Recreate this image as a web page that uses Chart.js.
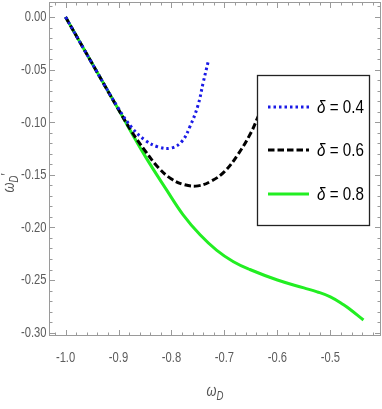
<!DOCTYPE html>
<html>
<head>
<meta charset="utf-8">
<script src="https://cdn.jsdelivr.net/npm/chart.js@4"></script>
<style>
	body {margin: 0; background: #fff;}
	canvas {display: block;}
</style>
</head>
<body>
<canvas id="chart" width="382" height="409"></canvas>
<script>
// values
const labels = ['δ = 0.4', 'δ = 0.6', 'δ = 0.8']

const xBlue = [-1.0, -0.95, -0.9, -0.875, -0.85, -0.825, -0.8, -0.78, -0.765, -0.75, -0.74, -0.73]
const yBlue = [0, -0.044, -0.087, -0.105, -0.117, -0.1235, -0.1245, -0.118, -0.104, -0.084, -0.062, -0.041]

const xBlack = [-1.0, -0.95, -0.9, -0.875, -0.85, -0.825, -0.8, -0.775, -0.75, -0.725, -0.7, -0.675, -0.65, -0.635]
const yBlack = [0, -0.044, -0.088, -0.109, -0.127, -0.143, -0.154, -0.1595, -0.1605, -0.156, -0.147, -0.131, -0.11, -0.093]

const xGreen = [-1.0, -0.9, -0.85, -0.809, -0.778, -0.746, -0.715, -0.683, -0.652, -0.6, -0.55, -0.525, -0.5, -0.475, -0.4625, -0.4375]
const yGreen = [0, -0.088, -0.132, -0.1645, -0.188, -0.207, -0.2215, -0.2326, -0.240, -0.250, -0.2575, -0.2612, -0.266, -0.2735, -0.278, -0.288]

const xTicks = [-1.0, -0.9, -0.8, -0.7, -0.6, -0.5]
const yTicks = [0, -0.05, -0.10, -0.15, -0.20, -0.25, -0.30]

const family = "'Liberation Sans', Arial, sans-serif"
const squeeze = 0.8   // the reference uses a narrow face
const frameColor = '#9a9a9a'
const labelColor = '#5c5c5c'

function points(xs, ys) {
	return xs.map((x, i) => ({x, y: ys[i]}))
}

// text drawn horizontally condensed, like a narrow font
function narrowText(ctx, text, x, y, font, align) {
	ctx.save()
	ctx.font = font
	const w = ctx.measureText(text).width * squeeze
	let left = x
	if (align == 'center') left = x - w / 2
	if (align == 'right') left = x - w
	ctx.translate(left, y)
	ctx.scale(squeeze, 1)
	ctx.textAlign = 'left'
	ctx.fillText(text, 0, 0)
	ctx.restore()
	return w
}

function textWidth(ctx, text, font) {
	ctx.font = font
	return ctx.measureText(text).width * squeeze
}

function drawTicks(ctx, scale, values, length, axis, area) {
	for (const v of values) {
		const p = Math.round(scale.getPixelForValue(v)) + 0.5
		ctx.beginPath()
		if (axis == 'x') {
			ctx.moveTo(p, area.bottom); ctx.lineTo(p, area.bottom - length)
			ctx.moveTo(p, area.top); ctx.lineTo(p, area.top + length)
		} else {
			ctx.moveTo(area.left, p); ctx.lineTo(area.left + length, p)
			ctx.moveTo(area.right, p); ctx.lineTo(area.right - length, p)
		}
		ctx.stroke()
	}
}

function minorValues(min, max, step) {
	const out = []
	const start = Math.ceil(min / step - 1e-6)
	for (let k = start; k * step <= max + 1e-9; k++) out.push(k * step)
	return out
}

function drawOmegaD(ctx, x, y, prime) {
	const big = `italic 16px ${family}`
	const small = `italic 12px ${family}`
	const w1 = textWidth(ctx, 'ω', big)
	const w2 = textWidth(ctx, 'D', small)
	const w3 = prime ? textWidth(ctx, '\u2032', `14px ${family}`) : 0
	let cx = x - (w1 + w2 + w3) / 2
	ctx.textBaseline = 'alphabetic'
	cx += narrowText(ctx, 'ω', cx, y, big, 'left')
	cx += narrowText(ctx, 'D', cx, y + 4, small, 'left')
	if (prime) narrowText(ctx, '\u2032', cx, y - 3, `14px ${family}`, 'left')
}

const framePlugin = {
	id: 'frame',
	afterDatasetsDraw(chart) {
		const {ctx, chartArea: area, scales} = chart
		ctx.save()
		ctx.strokeStyle = frameColor
		ctx.lineWidth = 1
		ctx.strokeRect(area.left + 0.5, area.top + 0.5, area.right - area.left - 1, area.bottom - area.top - 1)
		drawTicks(ctx, scales.x, xTicks, 6, 'x', area)
		drawTicks(ctx, scales.x, minorValues(scales.x.min, scales.x.max, 0.02), 3.5, 'x', area)
		drawTicks(ctx, scales.y, yTicks, 6, 'y', area)
		drawTicks(ctx, scales.y, minorValues(scales.y.min, scales.y.max, 0.01), 3.5, 'y', area)

		// tick labels
		ctx.fillStyle = labelColor
		ctx.textBaseline = 'middle'
		const tickFont = `14px ${family}`
		for (const v of xTicks) {
			narrowText(ctx, v.toFixed(1), scales.x.getPixelForValue(v), 358, tickFont, 'center')
		}
		for (const v of yTicks) {
			narrowText(ctx, v.toFixed(2), 46.5, scales.y.getPixelForValue(v) + 0.5, tickFont, 'right')
		}

		// legend box inside the plot
		const box = {left: 257.5, top: 75.5, right: 369.5, bottom: 225.5}
		ctx.fillStyle = '#fff'
		ctx.fillRect(box.left, box.top, box.right - box.left, box.bottom - box.top)
		ctx.strokeStyle = '#222'
		ctx.lineWidth = 1.3
		ctx.strokeRect(box.left, box.top, box.right - box.left, box.bottom - box.top)
		const rows = [107, 150, 194]
		chart.data.datasets.forEach((ds, i) => {
			const y = rows[i]
			ctx.beginPath()
			ctx.strokeStyle = ds.borderColor
			ctx.lineWidth = ds.borderWidth
			ctx.setLineDash(ds.borderDash || [])
			ctx.moveTo(268, y)
			ctx.lineTo(309, y)
			ctx.stroke()
			ctx.setLineDash([])
			const sym = ds.label.charAt(0)
			ctx.fillStyle = '#000'
			ctx.textBaseline = 'middle'
			const w = narrowText(ctx, sym, 317, y + 1, `italic 19px ${family}`, 'left')
			narrowText(ctx, ds.label.slice(1), 317 + w, y + 1, `19px ${family}`, 'left')
		})
		ctx.restore()
	},
	afterDraw(chart) {
		const {ctx} = chart
		ctx.save()
		ctx.fillStyle = '#555'
		drawOmegaD(ctx, 215, 396, false)
		ctx.translate(14, 183)
		ctx.rotate(-Math.PI / 2)
		drawOmegaD(ctx, 0, 0, true)
		ctx.restore()
	},
}

const data = {
	datasets: [
		{
			label: labels[0],
			data: points(xBlue, yBlue),
			borderColor: '#1a1ae6',
			borderWidth: 3,
			borderDash: [2.5, 3],
		},
		{
			label: labels[1],
			data: points(xBlack, yBlack),
			borderColor: '#000',
			borderWidth: 3,
			borderDash: [6.5, 3],
		},
		{
			label: labels[2],
			data: points(xGreen, yGreen),
			borderColor: '#22ee22',
			borderWidth: 3,
		},
	],
}

const config = {
	type: 'line',
	data,
	plugins: [framePlugin],
	options: {
		responsive: false,
		animation: false,
		devicePixelRatio: 1,
		layout: {padding: {top: 2, right: 1, left: 0, bottom: 0}},
		elements: {
			point: {radius: 0},
			line: {tension: 0.4, borderCapStyle: 'butt'},
		},
		scales: {
			x: {
				type: 'linear',
				min: -1.03125,
				max: -0.4044,
				afterBuildTicks: scale => {scale.ticks = xTicks.map(value => ({value}))},
				afterFit: scale => {scale.height = 73},
				grid: {display: false, drawTicks: false},
				border: {display: false},
				ticks: {display: false},
			},
			y: {
				type: 'linear',
				min: -0.3032,
				max: 0.01426,
				afterBuildTicks: scale => {scale.ticks = yTicks.map(value => ({value}))},
				afterFit: scale => {scale.width = 49},
				grid: {display: false, drawTicks: false},
				border: {display: false},
				ticks: {display: false},
			},
		},
		plugins: {
			legend: {display: false},
			tooltip: {enabled: false},
		},
	},
}

new Chart(document.getElementById('chart'), config)
</script>
</body>
</html>
